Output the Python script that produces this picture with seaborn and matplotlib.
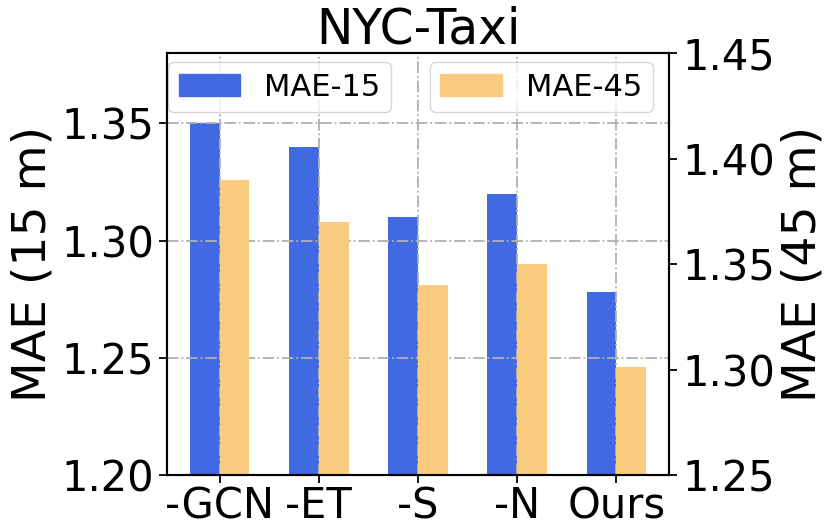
import pandas as pd
import numpy as np
import matplotlib
matplotlib.use("Agg")
import matplotlib.pyplot as plt
from matplotlib.patches import Patch
import seaborn as sns

# --- data ---
models = ['-GCN', '-ET', '-S', '-N', 'Ours']
mae_15 = [1.35, 1.34, 1.31, 1.32, 1.278]
mae_45 = [1.39, 1.37, 1.34, 1.35, 1.301]
metrics = ['MAE-15', 'MAE-45']
left_ticks = [1.20, 1.25, 1.30, 1.35]
right_ticks = [1.25, 1.30, 1.35, 1.40, 1.45]

colors = {'MAE-15': '#4169E1', 'MAE-45': '#F8CB7F'}

df = pd.DataFrame({
    'model': models * 2,
    'metric': ['MAE-15'] * len(models) + ['MAE-45'] * len(models),
    'mae': mae_15 + mae_45,
})

sns.set_style("ticks")
plt.rcParams['font.family'] = ['DejaVu Sans']
plt.rcParams['text.color'] = 'black'
plt.rcParams['axes.labelcolor'] = 'black'

fig = plt.figure(figsize=(8.31, 5.26), dpi=100)
ax1 = fig.add_axes([0.201, 0.097, 0.604, 0.802])
ax2 = ax1.twinx()

# blue bars on the left axis, orange on the right; keep both hue slots so they dodge
sns.barplot(data=df[df['metric'] == 'MAE-15'], x='model', y='mae', hue='metric',
            hue_order=metrics, order=models, palette=colors, saturation=1,
            width=0.6, dodge=True, linewidth=0, legend=False, ax=ax1)
sns.barplot(data=df[df['metric'] == 'MAE-45'], x='model', y='mae', hue='metric',
            hue_order=metrics, order=models, palette=colors, saturation=1,
            width=0.6, dodge=True, linewidth=0, legend=False, ax=ax2)

ax1.set_ylim(1.20, 1.38)
ax2.set_ylim(1.25, 1.45)
ax1.set_xlim(-0.53, 4.53)
ax1.set_yticks(left_ticks)
ax2.set_yticks(right_ticks)
ax1.set_yticklabels([f'{t:.2f}' for t in left_ticks])
ax2.set_yticklabels([f'{t:.2f}' for t in right_ticks])

ax1.set_axisbelow(False)
ax1.grid(True, axis='both', linestyle='-.', color='#b0b0b0', linewidth=1.3)
ax2.grid(False)

ax1.set_xlabel('')
ax2.set_xlabel('')
ax1.set_ylabel('MAE (15 m)', fontsize=34, color='black')
ax2.set_ylabel('MAE (45 m)', fontsize=34, color='black')
ax1.set_title('NYC-Taxi', fontsize=35, color='black', pad=7)

for ax in (ax1, ax2):
    ax.tick_params(labelsize=30, length=6, width=1.3, colors='black')
    for s in ax.spines.values():
        s.set_linewidth(1.5)
        s.set_color('black')
ax1.tick_params(axis='x', pad=1.5)

leg1 = ax1.legend(handles=[Patch(color=colors['MAE-15'])], labels=['MAE-15'],
                  loc='upper left', bbox_to_anchor=(0.002, 0.979), borderaxespad=0,
                  fontsize=22, borderpad=0.35)
leg2 = ax2.legend(handles=[Patch(color=colors['MAE-45'])], labels=['MAE-45'],
                  loc='upper right', bbox_to_anchor=(0.968, 0.979), borderaxespad=0,
                  fontsize=22, borderpad=0.35)
for leg in (leg1, leg2):
    for t in leg.get_texts():
        t.set_color('black')

fig.savefig('out.png', dpi=100)
